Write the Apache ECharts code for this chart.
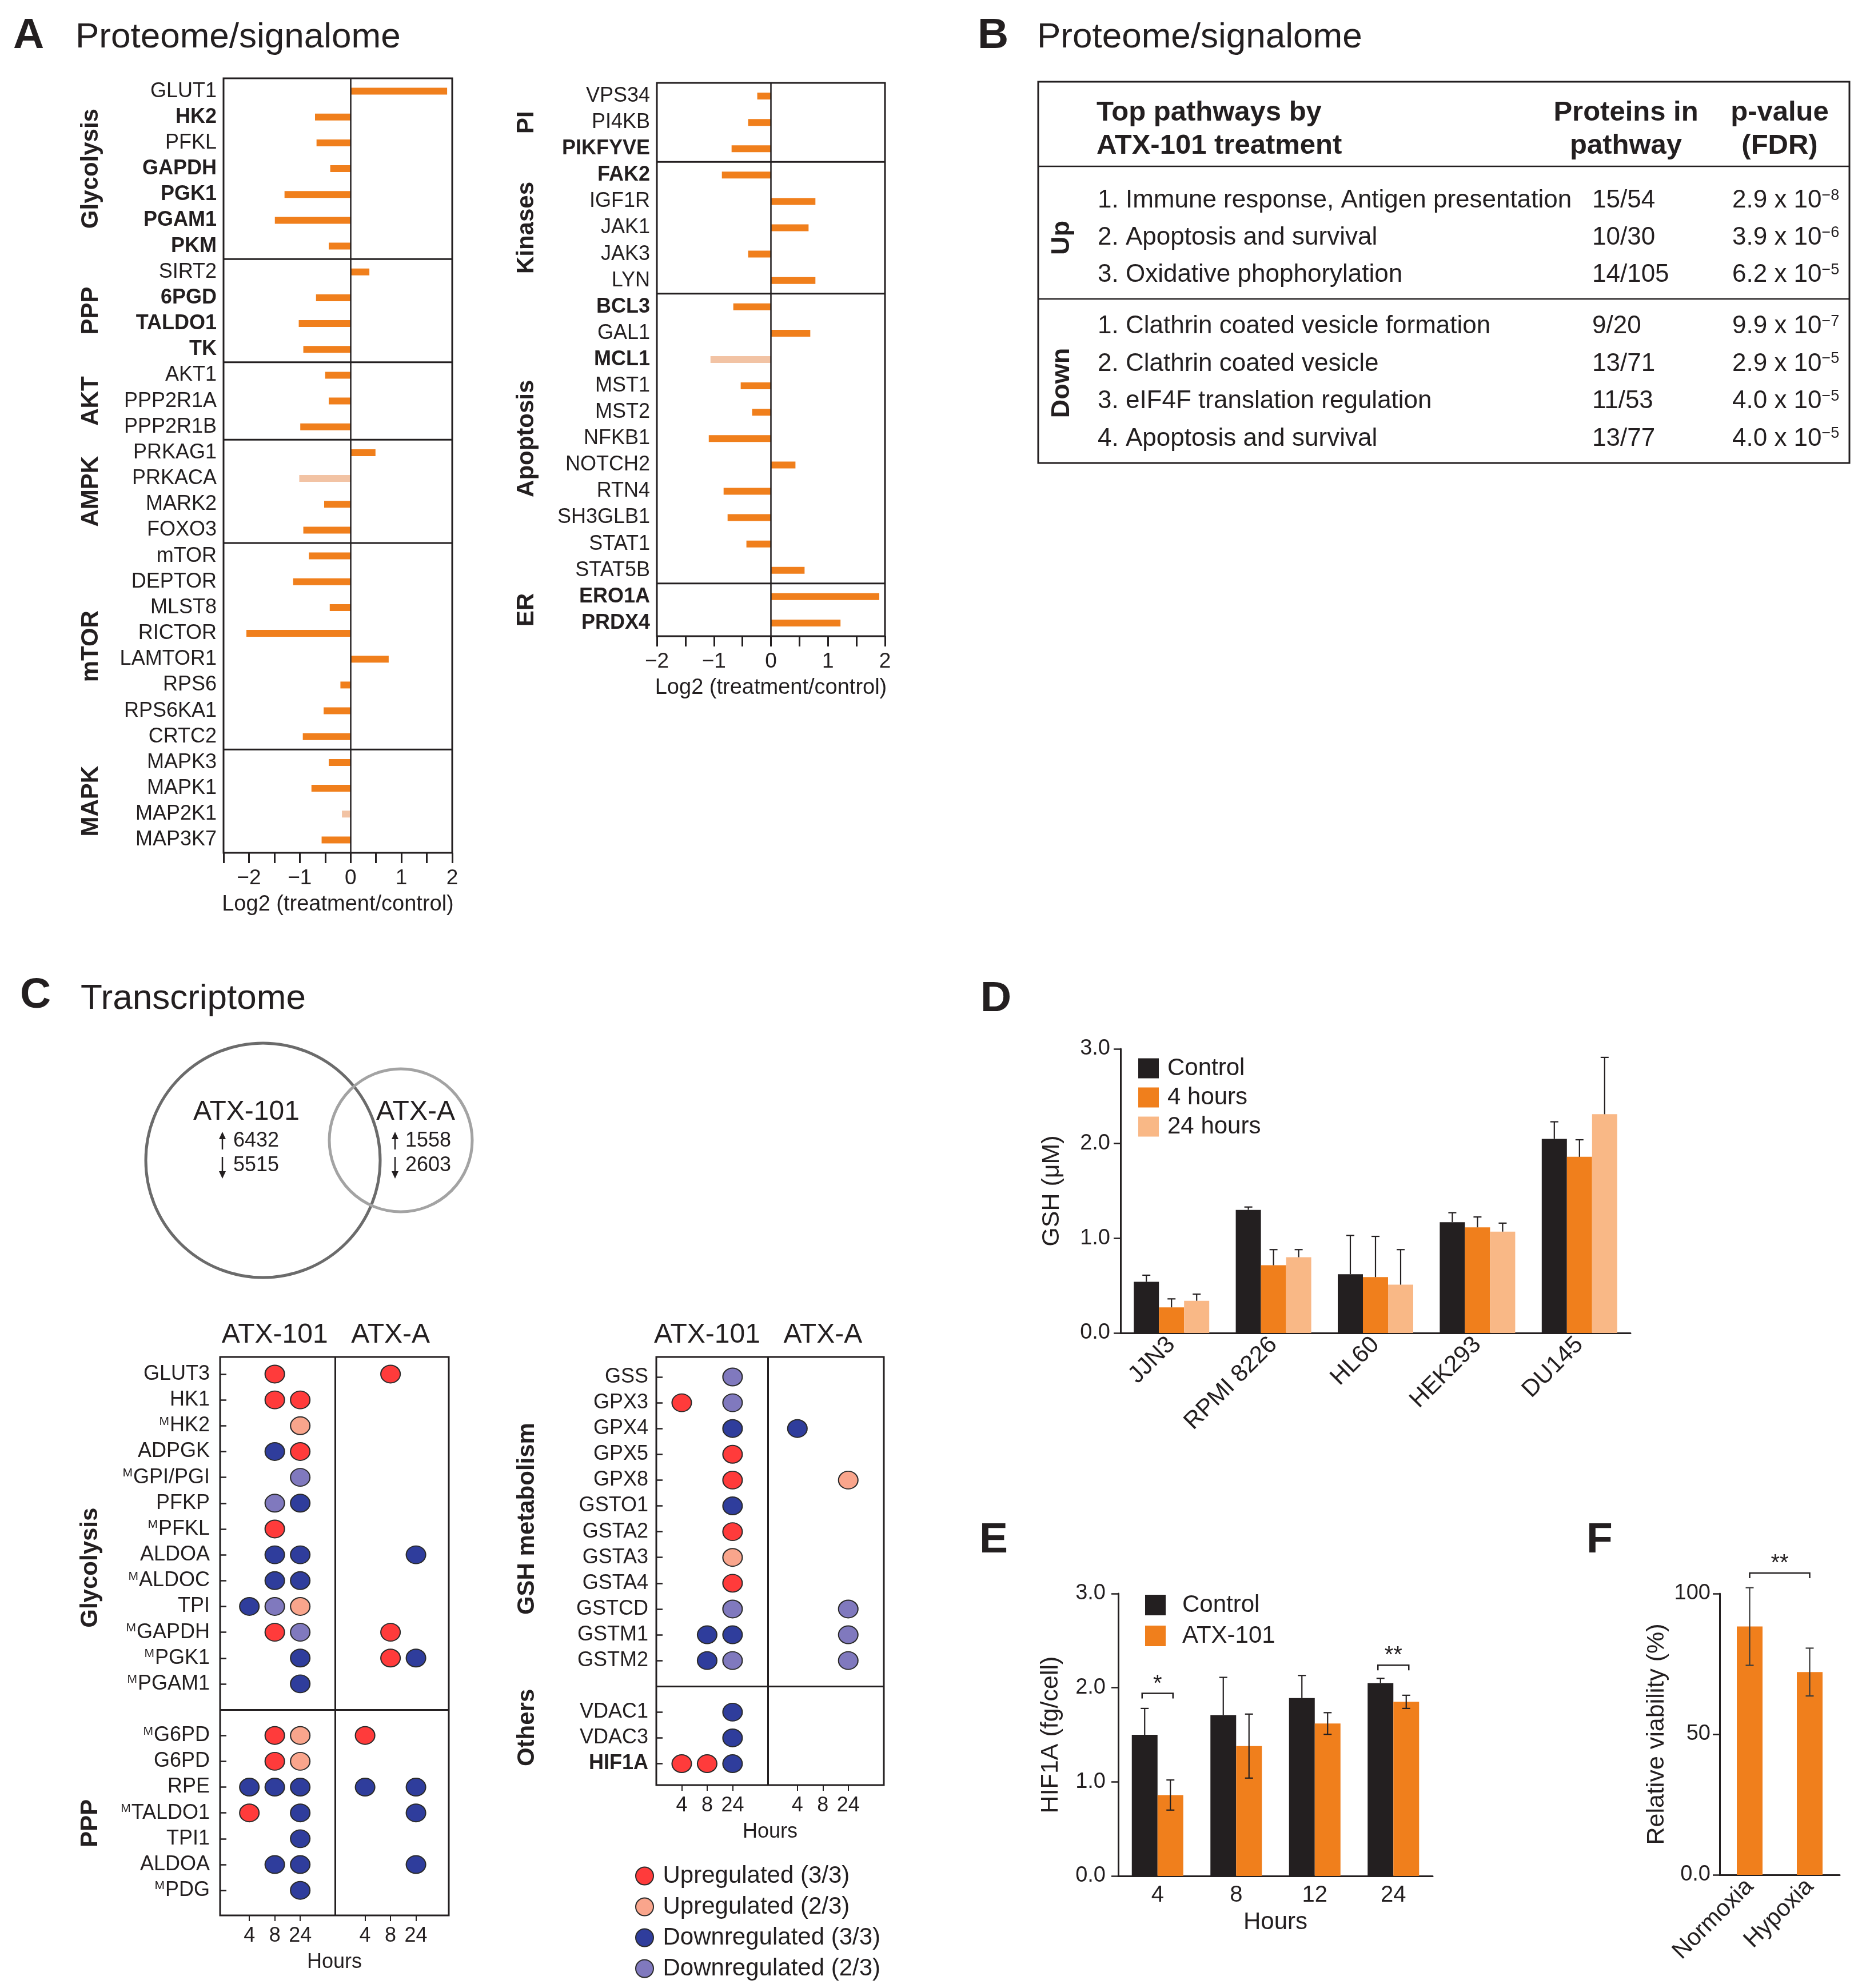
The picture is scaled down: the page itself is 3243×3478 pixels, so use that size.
<!DOCTYPE html>
<html><head><meta charset="utf-8">
<script src="https://cdn.jsdelivr.net/npm/echarts@6/dist/echarts.min.js"></script>
<style>html,body{margin:0;padding:0;background:#fff}#c{width:3243px;height:3478px}</style>
</head><body><div id="c"></div><script>
// ===================== DATA =====================
// Panel A (proteome / signalome), Log2 (treatment/control)
const genesA1 = ['GLUT1','HK2','PFKL','GAPDH','PGK1','PGAM1','PKM','SIRT2','6PGD','TALDO1','TK','AKT1','PPP2R1A','PPP2R1B','PRKAG1','PRKACA','MARK2','FOXO3','mTOR','DEPTOR','MLST8','RICTOR','LAMTOR1','RPS6','RPS6KA1','CRTC2','MAPK3','MAPK1','MAP2K1','MAP3K7'];
const valuesA1 = [1.90,-0.70,-0.67,-0.40,-1.30,-1.49,-0.43,0.37,-0.68,-1.02,-0.93,-0.50,-0.43,-0.99,0.49,-1.01,-0.52,-0.93,-0.82,-1.13,-0.41,-2.05,0.75,-0.20,-0.53,-0.94,-0.43,-0.77,-0.17,-0.57];
const groupsA1 = ['Glycolysis','PPP','AKT','AMPK','mTOR','MAPK'];
const groupSizesA1 = [7,4,3,4,8,4];
const genesA2 = ['VPS34','PI4KB','PIKFYVE','FAK2','IGF1R','JAK1','JAK3','LYN','BCL3','GAL1','MCL1','MST1','MST2','NFKB1','NOTCH2','RTN4','SH3GLB1','STAT1','STAT5B','ERO1A','PRDX4'];
const valuesA2 = [-0.24,-0.40,-0.69,-0.86,0.78,0.66,-0.40,0.78,-0.66,0.69,-1.06,-0.53,-0.33,-1.09,0.43,-0.83,-0.76,-0.43,0.59,1.90,1.22];
const groupsA2 = ['PI','Kinases','Apoptosis','ER'];
const groupSizesA2 = [3,5,11,2];
const boldGenesA = ['HK2','GAPDH','PGK1','PGAM1','PKM','6PGD','TALDO1','TK','PIKFYVE','FAK2','BCL3','MCL1','ERO1A','PRDX4'];
const nonSignificantA = ['PRKACA','MAP2K1','MCL1'];

// Panel B table
const tableHeaders = [['Top pathways by','ATX-101 treatment'],['Proteins in','pathway'],['p-value','(FDR)']];
const pathwaysUp = ['1. Immune response, Antigen presentation','2. Apoptosis and survival','3. Oxidative phophorylation'];
const proteinsUp = ['15/54','10/30','14/105'];
const pMantissaUp = ['2.9','3.9','6.2'];
const pExponentUp = [-8,-6,-5];
const pathwaysDown = ['1. Clathrin coated vesicle formation','2. Clathrin coated vesicle','3. eIF4F translation regulation','4. Apoptosis and survival'];
const proteinsDown = ['9/20','13/71','11/53','13/77'];
const pMantissaDown = ['9.9','2.9','4.0','4.0'];
const pExponentDown = [-7,-5,-5,-5];

// Panel C venn
const vennSets = ['ATX-101','ATX-A'];
const vennUp = [6432,1558];
const vennDown = [5515,2603];

// Panel C dot plots: codes 0 none, 1 Up(3/3), 2 Up(2/3), 3 Down(3/3), 4 Down(2/3)
// columns: ATX-101 4h, 8h, 24h, ATX-A 4h, 8h, 24h
const dotCategories = ['Upregulated (3/3)','Upregulated (2/3)','Downregulated (3/3)','Downregulated (2/3)'];
const dotHours = ['4','8','24'];
const dotGenesL = ['GLUT3','HK1','HK2','ADPGK','GPI/PGI','PFKP','PFKL','ALDOA','ALDOC','TPI','GAPDH','PGK1','PGAM1','','G6PD','G6PD','RPE','TALDO1','TPI1','ALDOA','PDG'];
const dotSupL = [0,0,1,0,1,0,1,0,1,0,1,1,1,0,1,0,0,1,0,0,1];
const dotCodesL = [
  [0,1,0, 0,1,0],[0,1,1, 0,0,0],[0,0,2, 0,0,0],[0,3,1, 0,0,0],[0,0,4, 0,0,0],
  [0,4,3, 0,0,0],[0,1,0, 0,0,0],[0,3,3, 0,0,3],[0,3,3, 0,0,0],[3,4,2, 0,0,0],
  [0,1,4, 0,1,0],[0,0,3, 0,1,3],[0,0,3, 0,0,0],[0,0,0, 0,0,0],
  [0,1,2, 1,0,0],[0,1,2, 0,0,0],[3,3,3, 3,0,3],[1,0,3, 0,0,3],[0,0,3, 0,0,0],
  [0,3,3, 0,0,3],[0,0,3, 0,0,0]
];
const dotGroupsL = ['Glycolysis','PPP'];
const dotGenesR = ['GSS','GPX3','GPX4','GPX5','GPX8','GSTO1','GSTA2','GSTA3','GSTA4','GSTCD','GSTM1','GSTM2','','VDAC1','VDAC3','HIF1A'];
const dotSupR = [0,0,0,0,0,0,0,0,0,0,0,0,0,0,0,0];
const dotCodesR = [
  [0,0,4, 0,0,0],[1,0,4, 0,0,0],[0,0,3, 3,0,0],[0,0,1, 0,0,0],[0,0,1, 0,0,2],
  [0,0,3, 0,0,0],[0,0,1, 0,0,0],[0,0,2, 0,0,0],[0,0,1, 0,0,0],[0,0,4, 0,0,4],
  [0,3,3, 0,0,4],[0,3,4, 0,0,4],[0,0,0, 0,0,0],
  [0,0,3, 0,0,0],[0,0,3, 0,0,0],[1,1,3, 0,0,0]
];
const dotGroupsR = ['GSH metabolism','Others'];
const boldGenesDot = ['HIF1A'];

// Panel D GSH
const cellLines = ['JJN3','RPMI 8226','HL60','HEK293','DU145'];
const gshSeriesNames = ['Control','4 hours','24 hours'];
const gshControl = [0.54,1.30,0.62,1.17,2.05];
const gsh4h = [0.27,0.715,0.59,1.115,1.86];
const gsh24h = [0.34,0.80,0.51,1.07,2.31];
const gshControlErr = [0.07,0.03,0.41,0.10,0.18];
const gsh4hErr = [0.09,0.165,0.43,0.11,0.18];
const gsh24hErr = [0.07,0.08,0.37,0.09,0.60];

// Panel E HIF1A
const hifHours = ['4','8','12','24'];
const hifSeriesNames = ['Control','ATX-101'];
const hifControl = [1.50,1.71,1.89,2.05];
const hifATX = [0.86,1.38,1.62,1.85];
const hifControlErr = [0.28,0.40,0.24,0.05];
const hifATXErr = [0.16,0.34,0.115,0.07];
const hifSigHour = ['4','24'];
const hifSigLevel = [1.94,2.24];
const hifSigText = ['*','**'];

// Panel F viability
const oxygen = ['Normoxia','Hypoxia'];
const viability = [88.3,72.1];
const viabilityErr = [13.8,8.5];
const viabilitySigLevel = 107.3;
const viabilitySigText = '**';

// ===================== STYLE / LAYOUT =====================
const FONT = '"Liberation Sans", Arial, Helvetica, sans-serif';
const INK = '#231f20', ORANGE = '#f07f1c', ORANGE_LIGHT = '#f9b886', PALE = '#f2c3a4';
const dotColors = ['#ff3b3b','#f9a58c','#2f3d9c','#8079be'];
const dotColX = [0,1,2,4.55,5.55,6.55];
const dotDividerX = 3.38;

const chart = echarts.init(document.getElementById('c'), null, {width:3243, height:3478});

function boxGrid(g){ return Object.assign({show:true, borderColor:INK, borderWidth:3, backgroundColor:'transparent'}, g); }
function intLabel(v){ if (Math.abs(v - Math.round(v)) > 1e-9) return ''; const r = Math.round(v); return r < 0 ? '\u2212' + (-r) : String(r); }
function aXAxis(gi, min){
  return {type:'value', gridIndex:gi, min:min, max:2, interval:0.5,
    axisLine:{show:false, onZero:false}, splitLine:{show:false},
    axisTick:{show:true, length:18, lineStyle:{color:INK, width:3}},
    axisLabel:{fontSize:37, color:INK, fontFamily:FONT, margin:26, showMinLabel:true, showMaxLabel:true, formatter:intLabel},
    name:'Log2 (treatment/control)', nameLocation:'middle', nameGap:72,
    nameTextStyle:{fontSize:38, color:INK, fontFamily:FONT}};
}
const richGene = {n:{fontSize:36, color:INK, fontFamily:FONT}, b:{fontSize:36, fontWeight:'bold', color:INK, fontFamily:FONT}, s:{fontSize:21, color:INK, fontFamily:FONT, verticalAlign:'top', padding:[0,1,0,0]}};
function aYAxis(gi, genes){
  return {type:'category', gridIndex:gi, data:genes, inverse:true,
    axisLine:{show:false, onZero:false}, axisTick:{show:false}, splitLine:{show:false},
    axisLabel:{interval:0, margin:12, fontSize:36, color:INK, fontFamily:FONT,
      formatter:v => boldGenesA.includes(v) ? '{b|' + v + '}' : '{n|' + v + '}', rich:richGene}};
}
function boundaries(sizes){ const out = []; let s = 0; for (let i = 0; i < sizes.length - 1; i++){ s += sizes[i]; out.push(s - 1); } return out; }
function dividerRender(params, api){
  const k = api.value(1);
  const p = api.coord([0, k]);
  const band = api.size([0, 1])[1];
  const y = p[1] + band / 2;
  const cs = params.coordSys;
  return {type:'line', shape:{x1:cs.x, y1:y, x2:cs.x + cs.width, y2:y}, style:{stroke:INK, lineWidth:3}};
}
function aBars(xi, yi, genes, values, sizes){
  return [
    {type:'bar', name:'log2 ratio ' + xi, xAxisIndex:xi, yAxisIndex:yi, barWidth:12,
      data: values.map((v, i) => ({value:v, itemStyle:{color: nonSignificantA.includes(genes[i]) ? PALE : ORANGE}})),
      markLine:{silent:true, symbol:'none', label:{show:false}, lineStyle:{color:INK, width:2.5, type:'solid'}, data:[{xAxis:0}]}},
    {type:'custom', name:'div' + xi, xAxisIndex:xi, yAxisIndex:yi, silent:true, z:5,
      data: boundaries(sizes).map(k => [0, k]), renderItem: dividerRender}
  ];
}

// Dot plot helpers
function colLabel(v){ const j = dotColX.findIndex(c => Math.abs(c - v) < 1e-6); return j < 0 ? '' : dotHours[j % 3]; }
function rowsOf(genes){ const r = []; genes.forEach((g, i) => { if (g) r.push(i); }); return r; }
function dotLabel(genes, sup, v){
  const i = Math.round(v); const g = genes[i]; if (!g) return '';
  const body = boldGenesDot.includes(g) ? '{b|' + g + '}' : '{n|' + g + '}';
  return sup[i] ? '{s|M}' + body : body;
}
function dotAxes(gi, genes, sup, xmin, xmax, ymin, ymax, labelMargin){
  const rows = rowsOf(genes);
  const x = [
    {type:'value', gridIndex:gi, position:'bottom', min:xmin, max:xmax, axisLine:{show:false, onZero:false}, splitLine:{show:false},
      axisTick:{show:true, customValues:dotColX, length:10, lineStyle:{color:INK, width:2}},
      axisLabel:{customValues:dotColX, formatter:colLabel, fontSize:36, color:INK, fontFamily:FONT, margin:18},
      name:'Hours', nameLocation:'middle', nameGap:64, nameTextStyle:{fontSize:36, color:INK, fontFamily:FONT}},
    {type:'value', gridIndex:gi, position:'top', min:xmin, max:xmax, axisLine:{show:false, onZero:false}, splitLine:{show:false}, axisTick:{show:false},
      axisLabel:{customValues:[1, 5.55], formatter:v => v < dotDividerX ? vennSets[0] : vennSets[1], fontSize:48, color:INK, fontFamily:FONT, margin:14}}
  ];
  const y = {type:'value', gridIndex:gi, position:'left', inverse:true, min:ymin, max:ymax, axisLine:{show:false, onZero:false}, splitLine:{show:false},
    axisTick:{show:true, inside:true, customValues:rows, length:11, lineStyle:{color:INK, width:2.5}},
    axisLabel:{customValues:rows, formatter:v => dotLabel(genes, sup, v), margin:labelMargin, fontSize:36, color:INK, fontFamily:FONT, rich:richGene}};
  return {x, y};
}
function dotSeries(codes, genes, xi, yi){
  const blank = genes.indexOf('');
  return dotCategories.map((name, k) => {
    const data = [];
    codes.forEach((row, i) => row.forEach((c, j) => { if (c === k + 1) data.push([dotColX[j], i]); }));
    const s = {type:'scatter', name, xAxisIndex:xi, yAxisIndex:yi, data, symbol:'circle', symbolSize:[34,31],
      itemStyle:{color:dotColors[k], borderColor:'#2a2a2a', borderWidth:2, opacity:1}, z:3};
    if (k === 0) s.markLine = {silent:true, symbol:'none', label:{show:false}, lineStyle:{color:INK, width:3, type:'solid'},
      data:[{yAxis:blank}, {xAxis:dotDividerX}]};
    return s;
  });
}

// Error bars & brackets
function errRender(offset, both, color){
  return function(params, api){
    const i = api.value(0), m = api.value(1), e = api.value(2);
    const top = api.coord([i, m + e]), mid = api.coord([i, m]), bot = api.coord([i, m - e]);
    const x = top[0] + offset, y1 = top[1], y2 = both ? bot[1] : mid[1], cap = 7;
    const st = {stroke:color, lineWidth:2.2};
    const ch = [{type:'line', shape:{x1:x, y1:y1, x2:x, y2:y2}, style:st},
                {type:'line', shape:{x1:x - cap, y1:y1, x2:x + cap, y2:y1}, style:st}];
    if (both) ch.push({type:'line', shape:{x1:x - cap, y1:y2, x2:x + cap, y2:y2}, style:st});
    return {type:'group', children:ch};
  };
}
function errSeries(xi, yi, means, errs, offset, both, color){
  return {type:'custom', xAxisIndex:xi, yAxisIndex:yi, silent:true, z:6,
    data: means.map((m, i) => [i, m, errs[i]]), renderItem: errRender(offset, both, color)};
}
function bracketShape(x1, x2, y, text){
  return {type:'group', children:[
    {type:'polyline', shape:{points:[[x1, y + 9],[x1, y],[x2, y],[x2, y + 9]]}, style:{stroke:INK, lineWidth:2.5, fill:null}},
    {type:'text', x:(x1 + x2) / 2, y:y + 4, style:{text:text, fontSize:40, fontFamily:FONT, fill:INK, align:'center', verticalAlign:'bottom'}}
  ]};
}

const dotL = dotAxes(2, dotGenesL, dotSupL, -1.15, 7.84, -0.664, 20.97, 18);
const dotR = dotAxes(3, dotGenesR, dotSupR, -1.0, 7.95, -0.776, 15.83, 14);

const baseYAxis = (gi, max, interval, fmt, name, nameGap, margin) => ({
  type:'value', gridIndex:gi, min:0, max:max, interval:interval,
  axisLine:{show:true, onZero:false, lineStyle:{color:INK, width:3}}, splitLine:{show:false},
  axisTick:{show:true, length:12, lineStyle:{color:INK, width:2.5}},
  axisLabel:{formatter:fmt, fontSize:38, color:INK, fontFamily:FONT, margin:margin},
  name:name, nameLocation:'middle', nameGap:nameGap, nameTextStyle:{fontSize:43, color:INK, fontFamily:FONT}
});
const baseXAxis = (gi, data, extra) => Object.assign({
  type:'category', gridIndex:gi, data:data,
  axisLine:{show:true, onZero:false, lineStyle:{color:INK, width:3}}, axisTick:{show:false}, splitLine:{show:false}
}, extra);

const option = {
  backgroundColor:'#ffffff',
  animation:false,
  textStyle:{fontFamily:FONT, color:INK},
  grid:[
    boxGrid({left:391, top:137, width:400, height:1355}),
    boxGrid({left:1149, top:145, width:399, height:968}),
    boxGrid({left:385, top:2374, width:400, height:977}),
    boxGrid({left:1148, top:2374, width:398, height:749}),
    {left:1960, top:1835, width:892, height:497},
    {left:1956, top:2788, width:550, height:494},
    {left:3008, top:2788, width:210, height:492}
  ],
  xAxis:[
    aXAxis(0, -2.5), aXAxis(1, -2),
    dotL.x[0], dotL.x[1], dotR.x[0], dotR.x[1],
    baseXAxis(4, cellLines, {axisLabel:{interval:0, rotate:45, fontSize:42, color:INK, fontFamily:FONT, margin:14}}),
    baseXAxis(5, hifHours, {axisLabel:{interval:0, fontSize:40, color:INK, fontFamily:FONT, margin:14},
      name:'Hours', nameLocation:'middle', nameGap:60, nameTextStyle:{fontSize:42, color:INK, fontFamily:FONT}}),
    baseXAxis(6, oxygen, {axisLabel:{interval:0, rotate:45, fontSize:42, color:INK, fontFamily:FONT, margin:14}})
  ],
  yAxis:[
    aYAxis(0, genesA1), aYAxis(1, genesA2), dotL.y, dotR.y,
    baseYAxis(4, 3, 1, v => v.toFixed(1), 'GSH (\u03bcM)', 98, 18),
    baseYAxis(5, 3, 1, v => v.toFixed(1), 'HIF1A (fg/cell)', 96, 22),
    baseYAxis(6, 100, 50, v => v === 0 ? '0.0' : String(v), 'Relative viability (%)', 88, 16)
  ],
  legend:[
    {data:gshSeriesNames, orient:'vertical', left:1986, top:1843, icon:'rect', itemWidth:36, itemHeight:35, itemGap:9, selectedMode:false,
      textStyle:{fontSize:42, lineHeight:42, color:INK, fontFamily:FONT, padding:[0,0,0,10]}},
    {data:hifSeriesNames, orient:'vertical', left:1998, top:2782, icon:'rect', itemWidth:36, itemHeight:36, itemGap:12, selectedMode:false,
      textStyle:{fontSize:42, lineHeight:42, color:INK, fontFamily:FONT, padding:[0,0,0,24]}},
    {data:dotCategories, orient:'vertical', left:1106, top:3256, icon:'circle', itemWidth:34, itemHeight:31, itemGap:12, selectedMode:false,
      textStyle:{fontSize:42, lineHeight:42, color:INK, fontFamily:FONT, padding:[0,0,0,10]}}
  ],
  series:[
    ...aBars(0, 0, genesA1, valuesA1, groupSizesA1),
    ...aBars(1, 1, genesA2, valuesA2, groupSizesA2),
    ...dotSeries(dotCodesL, dotGenesL, 2, 2),
    ...dotSeries(dotCodesR, dotGenesR, 4, 3),
    // D
    {type:'bar', name:gshSeriesNames[0], xAxisIndex:6, yAxisIndex:4, data:gshControl, barWidth:44, barGap:'0%', itemStyle:{color:INK}},
    {type:'bar', name:gshSeriesNames[1], xAxisIndex:6, yAxisIndex:4, data:gsh4h, barWidth:44, barGap:'0%', itemStyle:{color:ORANGE}},
    {type:'bar', name:gshSeriesNames[2], xAxisIndex:6, yAxisIndex:4, data:gsh24h, barWidth:44, barGap:'0%', itemStyle:{color:ORANGE_LIGHT}},
    errSeries(6, 4, gshControl, gshControlErr, -44, false, INK),
    errSeries(6, 4, gsh4h, gsh4hErr, 0, false, INK),
    errSeries(6, 4, gsh24h, gsh24hErr, 44, false, INK),
    // E
    {type:'bar', name:hifSeriesNames[0], xAxisIndex:7, yAxisIndex:5, data:hifControl, barWidth:45, barGap:'0%', itemStyle:{color:INK}},
    {type:'bar', name:hifSeriesNames[1], xAxisIndex:7, yAxisIndex:5, data:hifATX, barWidth:45, barGap:'0%', itemStyle:{color:ORANGE}},
    errSeries(7, 5, hifControl, hifControlErr, -22.5, false, INK),
    errSeries(7, 5, hifATX, hifATXErr, 22.5, true, INK),
    {type:'custom', xAxisIndex:7, yAxisIndex:5, silent:true, z:7,
      data: hifSigHour.map((h, i) => [hifHours.indexOf(h), hifSigLevel[i]]),
      renderItem: (params, api) => { const c = api.coord([api.value(0), api.value(1)]); return bracketShape(c[0] - 27, c[0] + 27, c[1], hifSigText[params.dataIndex]); }},
    // F
    {type:'bar', name:'Relative viability', xAxisIndex:8, yAxisIndex:6, data:viability, barWidth:45, itemStyle:{color:ORANGE}},
    errSeries(8, 6, viability, viabilityErr, 0, true, '#3a3a3a'),
    {type:'custom', xAxisIndex:8, yAxisIndex:6, silent:true, z:7,
      data:[[0, 1, viabilitySigLevel]],
      renderItem: (params, api) => { const a = api.coord([api.value(0), api.value(2)]); const b = api.coord([api.value(1), api.value(2)]); return bracketShape(a[0], b[0], a[1], viabilitySigText); }}
  ]
};
chart.setOption(option);

// ===================== ANNOTATIONS (graphic) =====================
function T(x, y, text, size, o){
  o = o || {};
  return {type:'text', x:x, y:y, rotation:o.rot || 0, z:20,
    style:{text:text, fontSize:size, fontFamily:FONT, fontWeight:o.bold ? 'bold' : 'normal', fill:o.color || INK,
      align:o.align || 'left', verticalAlign:o.va || 'middle', textAlign:o.align || 'left', textVerticalAlign:o.va || 'middle', rich:o.rich}};
}
function arrow(x, yTail, yHead){
  const dir = yHead < yTail ? 1 : -1; // 1 = pointing up
  const headLen = 13, headHalf = 6;
  return {type:'group', z:20, children:[
    {type:'line', shape:{x1:x, y1:yTail, x2:x, y2:yHead + dir * headLen * 0.8}, style:{stroke:INK, lineWidth:2.5}},
    {type:'polygon', shape:{points:[[x, yHead],[x - headHalf, yHead + dir * headLen],[x + headHalf, yHead + dir * headLen]]}, style:{fill:INK}}
  ]};
}
const G = [];
// panel letters & titles
[['A',23,63],['B',1710,63],['C',35,1742],['D',1715,1748],['E',1713,2695],['F',2775,2695]].forEach(p => G.push(T(p[1], p[2], p[0], 75, {bold:true})));
G.push(T(132, 66, 'Proteome/signalome', 62));
G.push(T(1814, 66, 'Proteome/signalome', 62));
G.push(T(141, 1748, 'Transcriptome', 62));

// group labels for panel A
function groupLabelsCat(gi, genes, sizes, names, x){
  let start = 0;
  sizes.forEach((s, k) => {
    const y1 = chart.convertToPixel({gridIndex:gi}, [0, genes[start]])[1];
    const y2 = chart.convertToPixel({gridIndex:gi}, [0, genes[start + s - 1]])[1];
    G.push(T(x, (y1 + y2) / 2, names[k], 42, {bold:true, align:'center', rot:Math.PI / 2}));
    start += s;
  });
}
groupLabelsCat(0, genesA1, groupSizesA1, groupsA1, 159);
groupLabelsCat(1, genesA2, groupSizesA2, groupsA2, 921);

// group labels for dot plots (label centre positions in row units)
[[2, dotGroupsL, [7.5, 17.4], 158], [3, dotGroupsR, [5.5, 13.6], 922]].forEach(d => {
  d[1].forEach((name, k) => {
    const y = chart.convertToPixel({gridIndex:d[0]}, [0, d[2][k]])[1];
    G.push(T(d[3], y, name, 42, {bold:true, align:'center', rot:Math.PI / 2}));
  });
});

// Panel B table
G.push({type:'rect', shape:{x:1816, y:143, width:1419, height:667}, style:{fill:null, stroke:INK, lineWidth:3}, z:15});
G.push({type:'line', shape:{x1:1816, y1:291, x2:3235, y2:291}, style:{stroke:INK, lineWidth:2.5}, z:15});
G.push({type:'line', shape:{x1:1816, y1:523, x2:3235, y2:523}, style:{stroke:INK, lineWidth:2.5}, z:15});
G.push(T(1918, 197, tableHeaders[0][0], 49, {bold:true}));
G.push(T(1918, 255, tableHeaders[0][1], 49, {bold:true}));
G.push(T(2844, 197, tableHeaders[1][0], 49, {bold:true, align:'center'}));
G.push(T(2844, 255, tableHeaders[1][1], 49, {bold:true, align:'center'}));
G.push(T(3113, 197, tableHeaders[2][0], 49, {bold:true, align:'center'}));
G.push(T(3113, 255, tableHeaders[2][1], 49, {bold:true, align:'center'}));
G.push(T(1858, 416, 'Up', 45, {bold:true, align:'center', rot:Math.PI / 2}));
G.push(T(1858, 670, 'Down', 45, {bold:true, align:'center', rot:Math.PI / 2}));
const pRich = {n:{fontSize:44, fontFamily:FONT, fill:INK, color:INK}, s:{fontSize:27, fontFamily:FONT, fill:INK, color:INK, verticalAlign:'top'}};
function tableRows(paths, prots, mant, expo, y0, step){
  paths.forEach((p, i) => {
    const y = y0 + i * step;
    G.push(T(1920, y, p, 44));
    G.push(T(2785, y, prots[i], 44));
    G.push(T(3030, y, '{n|' + mant[i] + ' x 10}{s|\u2212' + Math.abs(expo[i]) + '}', 44, {rich:pRich}));
  });
}
tableRows(pathwaysUp, proteinsUp, pMantissaUp, pExponentUp, 351, 65);
tableRows(pathwaysDown, proteinsDown, pMantissaDown, pExponentDown, 571, 65.5);

// Panel C venn
G.push({type:'circle', shape:{cx:460, cy:2030, r:205}, style:{fill:null, stroke:'#6b6b6b', lineWidth:5}, z:12});
G.push({type:'circle', shape:{cx:701, cy:1995, r:125}, style:{fill:null, stroke:'#a3a3a3', lineWidth:5}, z:13});
[[431, 389, 408], [727, 691, 709]].forEach((p, i) => {
  G.push(T(p[0], 1946, vennSets[i], 48, {align:'center'}));
  G.push(arrow(p[1], 2011, 1980));
  G.push(T(p[2], 1996, String(vennUp[i]), 36));
  G.push(arrow(p[1], 2024, 2062));
  G.push(T(p[2], 2039, String(vennDown[i]), 36));
});

chart.setOption({graphic:{elements:G}});
</script></body></html>
